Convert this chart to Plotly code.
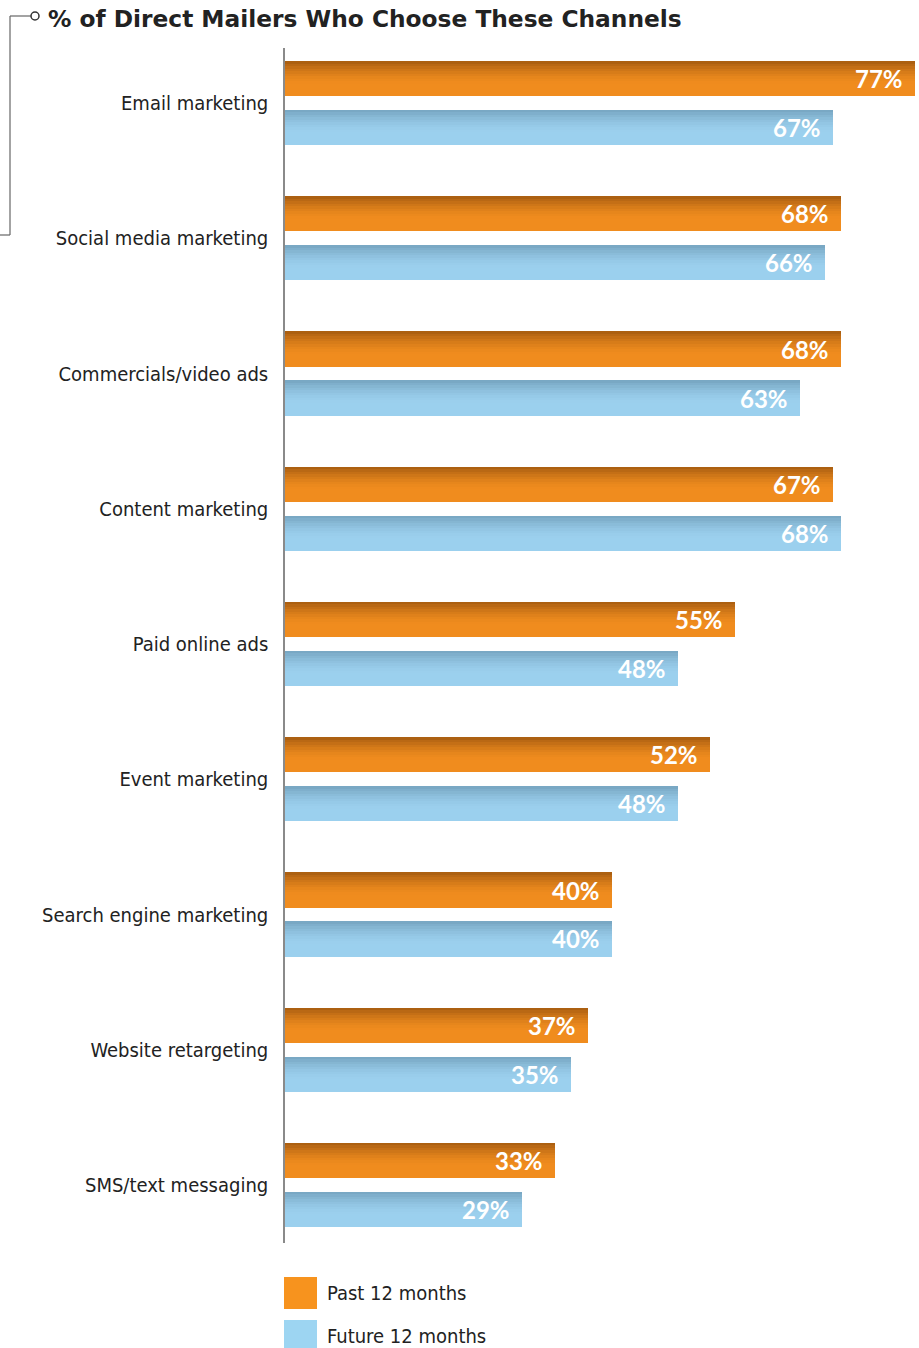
import plotly.graph_objects as go

# ---- data ----
categories = [
    "Email marketing",
    "Social media marketing",
    "Commercials/video ads",
    "Content marketing",
    "Paid online ads",
    "Event marketing",
    "Search engine marketing",
    "Website retargeting",
    "SMS/text messaging",
]
past_12 = [77, 68, 68, 67, 55, 52, 40, 37, 33]
future_12 = [67, 66, 63, 68, 48, 48, 40, 35, 29]
series_names = ["Past 12 months", "Future 12 months"]

# ---- layout constants (pixels) ----
W, H = 919, 1348
L, R, T, B = 285, 0, 48, 105
PLOT_W = W - L - R
PLOT_H = H - T - B
XMAX = 77.5
Y_TOP, Y_BOT = -0.407, 8.429  # reversed category axis
BAR_W = 0.259
OFFSET = 0.181

TITLE_FONT = "DejaVu Sans"
LABEL_FONT = "DejaVu Sans Condensed, DejaVu Sans"
VALUE_FONT = "Lato"


def px_x(p):
    return (p - L) / PLOT_W


def px_y(p):
    return (H - B - p) / PLOT_H


def blend(c1, c2, t):
    return "rgb({},{},{})".format(*[round(a + (b - a) * t) for a, b in zip(c1, c2)])


fig = go.Figure()

# shaded bars: each bar is built from thin horizontal strips, dark at the top edge
styles = [
    dict(top=(166, 92, 16), base=(240, 140, 30), shift=-OFFSET),
    dict(top=(118, 164, 192), base=(155, 208, 238), shift=OFFSET),
]
N = 14
idx = list(range(len(categories)))
for vals, st in zip([past_12, future_12], styles):
    sw = BAR_W / N
    for k in range(N):
        t = min(1.0, ((k + 0.5) / N) / 0.65)
        t = 1 - (1 - t) ** 1.6
        col = blend(st["top"], st["base"], t)
        ys = [i + st["shift"] - BAR_W / 2 + (k + 0.5) * sw for i in idx]
        fig.add_trace(go.Bar(
            x=vals, y=ys, orientation="h", width=sw * 1.04,
            marker=dict(color=col, line=dict(width=0)),
            hoverinfo="skip", showlegend=False,
        ))

# value labels inside bar ends
annotations = []
for vals, st in zip([past_12, future_12], styles):
    for i, v in zip(idx, vals):
        annotations.append(dict(
            x=v, y=i + st["shift"], xref="x", yref="y",
            text=f"{v}%", showarrow=False, xanchor="right", yanchor="middle",
            xshift=-10, yshift=0,
            font=dict(family=VALUE_FONT, size=24, color="white", weight="bold"),
        ))

# title
annotations.append(dict(
    x=px_x(46), y=px_y(19), xref="paper", yref="paper",
    text="% of Direct Mailers Who Choose These Channels", showarrow=False,
    xanchor="left", yanchor="middle",
    font=dict(family=TITLE_FONT, size=23.3, color="#222222", weight="bold"),
))

# legend
legend_cols = ["#F7931E", "#9DD5F2"]
legend_rows = [(1277, 1309), (1320, 1352)]
shapes = []
for name, col, (y0, y1) in zip(series_names, legend_cols, legend_rows):
    shapes.append(dict(type="rect", xref="paper", yref="paper",
                       x0=px_x(284), x1=px_x(317), y0=px_y(y1), y1=px_y(y0),
                       fillcolor=col, line=dict(width=0), layer="above"))
    annotations.append(dict(
        x=px_x(325), y=px_y((y0 + y1) / 2), xref="paper", yref="paper",
        text=name, showarrow=False, xanchor="left", yanchor="middle",
        font=dict(family=LABEL_FONT, size=20, color="#222222"),
    ))

# bracket decoration beside the title
line_col = "#666666"
shapes += [
    dict(type="line", xref="paper", yref="paper", x0=px_x(0), x1=px_x(10),
         y0=px_y(235), y1=px_y(235), line=dict(color=line_col, width=1.2)),
    dict(type="line", xref="paper", yref="paper", x0=px_x(10), x1=px_x(10),
         y0=px_y(235), y1=px_y(16), line=dict(color=line_col, width=1.2)),
    dict(type="line", xref="paper", yref="paper", x0=px_x(10), x1=px_x(31),
         y0=px_y(16), y1=px_y(16), line=dict(color=line_col, width=1.2)),
    dict(type="circle", xref="paper", yref="paper", x0=px_x(31), x1=px_x(39),
         y0=px_y(20), y1=px_y(12), line=dict(color="#333333", width=1.5),
         fillcolor="white"),
]

fig.update_layout(
    width=W, height=H,
    margin=dict(l=L, r=R, t=T, b=B, pad=0),
    paper_bgcolor="white", plot_bgcolor="white",
    barmode="overlay", bargap=0,
    showlegend=False,
    annotations=annotations, shapes=shapes,
    xaxis=dict(range=[0, XMAX], visible=False, fixedrange=True),
    yaxis=dict(
        range=[Y_BOT, Y_TOP], tickmode="array", tickvals=idx, ticktext=categories,
        showgrid=False, zeroline=False, showline=True, linecolor="#8a8a8a",
        linewidth=1.5, ticks="", ticklabelstandoff=11,
        tickfont=dict(family=LABEL_FONT, size=20, color="#222222"),
    ),
)

fig.write_html("out.html")
